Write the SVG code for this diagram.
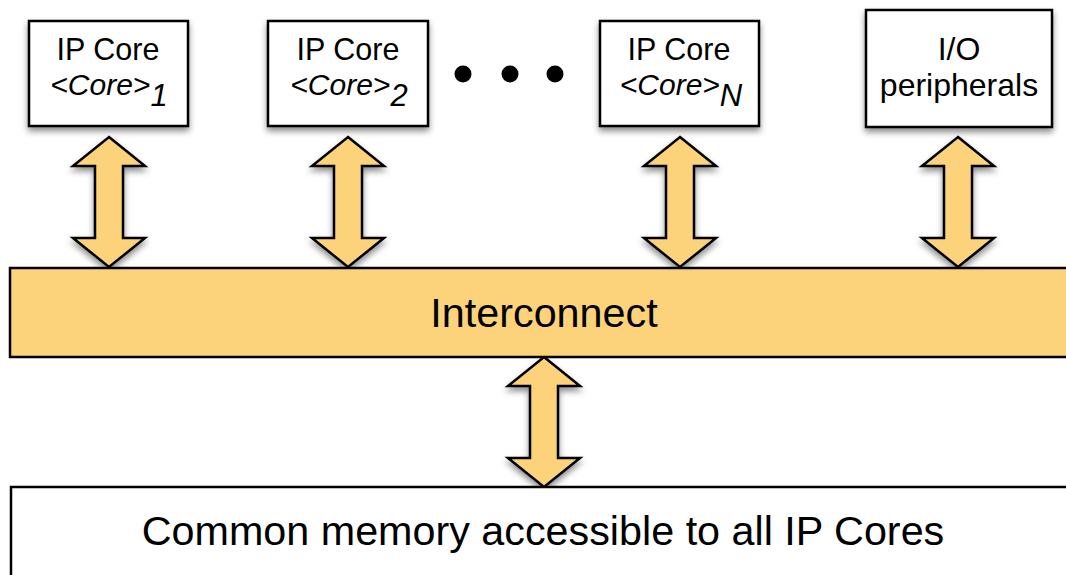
<svg xmlns="http://www.w3.org/2000/svg" width="1066" height="575" viewBox="0 0 1066 575">
<style>
.box{fill:#fff;stroke:#000;stroke-width:2.5}
.bar{fill:#FCD27A;stroke:#000;stroke-width:2.5}
.arr{fill:#FCD27A;stroke:#000;stroke-width:2.5;stroke-linejoin:miter}
.t{font-family:"Liberation Sans",Arial,sans-serif;fill:#000;text-anchor:middle}
.l1{font-size:30.5px}
.l2{font-size:30px;font-style:italic}
.sub{font-size:31px}
.io{font-size:32px}
.big{font-size:41.3px}
</style>
<defs>
<filter id="sh" x="-20%" y="-20%" width="140%" height="150%">
<feDropShadow dx="0" dy="4" stdDeviation="3" flood-color="#000" flood-opacity="0.45"/>
</filter>
<path id="dbl" d="M0,0 L36,29 L14,29 L14,101 L36,101 L0,130 L-36,101 L-14,101 L-14,29 L-36,29 Z"/>
</defs>
<rect width="1066" height="575" fill="#fff"/>
<g id="connectors">
<use href="#dbl" class="arr" filter="url(#sh)" transform="translate(109,137)"/>
<use href="#dbl" class="arr" filter="url(#sh)" transform="translate(348,137)"/>
<use href="#dbl" class="arr" filter="url(#sh)" transform="translate(680,137)"/>
<use href="#dbl" class="arr" filter="url(#sh)" transform="translate(958,137)"/>
<use href="#dbl" class="arr" filter="url(#sh)" transform="translate(544,357)"/>
</g>
<g id="core1">
<rect class="box" filter="url(#sh)" x="29" y="21" width="159" height="105"/>
<text class="t l1" x="108" y="60">IP Core</text>
<text class="t l2" x="109" y="95">&lt;Core&gt;<tspan class="sub" dy="11">1</tspan></text>
</g>
<g id="core2">
<rect class="box" filter="url(#sh)" x="268" y="21" width="160" height="105"/>
<text class="t l1" x="348" y="60">IP Core</text>
<text class="t l2" x="349" y="95">&lt;Core&gt;<tspan class="sub" dy="11">2</tspan></text>
</g>
<g id="dots">
<circle cx="463" cy="74" r="8.5"/>
<circle cx="510" cy="74" r="8.5"/>
<circle cx="555" cy="74" r="8.5"/>
</g>
<g id="coreN">
<rect class="box" filter="url(#sh)" x="600" y="21" width="159" height="105"/>
<text class="t l1" x="679" y="60">IP Core</text>
<text class="t l2" x="681" y="95">&lt;Core&gt;<tspan class="sub" dy="11">N</tspan></text>
</g>
<g id="io">
<rect class="box" filter="url(#sh)" x="866" y="10" width="186" height="117"/>
<text class="t io" x="959" y="60">I/O</text>
<text class="t io" x="959" y="96">peripherals</text>
</g>
<g id="interconnect">
<rect class="bar" x="10" y="268" width="1066" height="89"/>
<text class="t big" x="544" y="327">Interconnect</text>
</g>
<g id="memory">
<rect class="box" x="11" y="487" width="1066" height="100"/>
<text class="t big" x="543" y="545">Common memory accessible to all IP Cores</text>
</g>
</svg>
